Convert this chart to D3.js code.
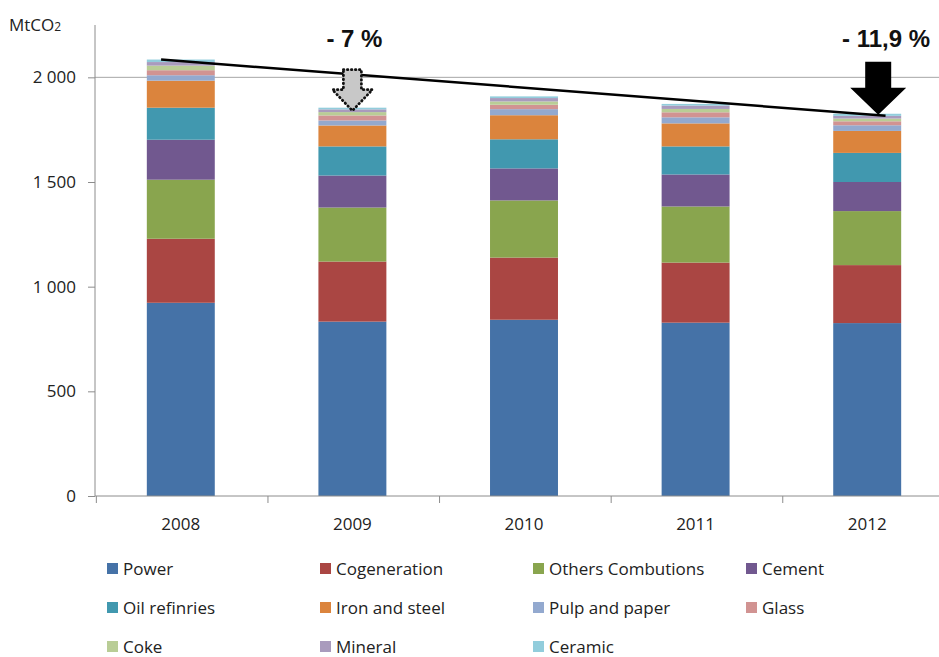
<!DOCTYPE html>
<html>
<head>
<meta charset="utf-8">
<script src="https://cdn.jsdelivr.net/npm/d3@7"></script>
<style>
  body { margin: 0; background: #fff; }
  text { font-family: "Open Sans", "Liberation Sans", sans-serif; fill: #222; }
</style>
</head>
<body>
<svg id="svg" width="939" height="657"></svg>
<script>
// data (MtCO2)
var years = ["2008", "2009", "2010", "2011", "2012"];
var sectors = ["Power", "Cogeneration", "Others Combutions", "Cement", "Oil refinries",
               "Iron and steel", "Pulp and paper", "Glass", "Coke", "Mineral", "Ceramic"];
var power        = [923, 833, 842, 828, 826];
var cogeneration = [306, 287, 297, 287, 277];
var others       = [282, 258, 273, 268, 258];
var cement       = [191, 153, 153, 153, 139];
var oil          = [153, 139, 139, 134, 139];
var ironSteel    = [129, 100, 115, 110, 105];
var pulpPaper    = [26, 24, 29, 29, 27];
var glass        = [24, 24, 21, 24, 19];
var coke         = [22, 16, 16, 16, 13];
var mineral      = [17, 13, 16, 16, 13];
var ceramic      = [12, 8, 8, 8, 10];
var yTicks = [0, 500, 1000, 1500, 2000];
var colors = ["#4572A7", "#AA4643", "#89A54E", "#71588F", "#4198AF", "#DB843D",
              "#93A9CF", "#D19392", "#B9CD96", "#A99BBD", "#92CDDC"];

var series = [power, cogeneration, others, cement, oil, ironSteel, pulpPaper, glass, coke, mineral, ceramic];

var svg = d3.select("#svg");

var margin = {left: 95, top: 25, bottom: 496, right: 953};

// table for the stack
var table = years.map(function(y, i) {
    var row = {year: y};
    sectors.forEach(function(s, k) { row[s] = series[k][i]; });
    return row;
});
var stacked = d3.stack().keys(sectors)(table);
var totals = years.map(function(y, i) { return d3.sum(series, function(s) { return s[i]; }); });

var x = d3.scaleBand().domain(years).range([margin.left, margin.right])
    .paddingInner(0.604).paddingOuter(0.302);
var y = d3.scaleLinear().domain([0, 2250]).range([margin.bottom, margin.top]);
var color = d3.scaleOrdinal().domain(sectors).range(colors);

// gridline at 2000
svg.append("line")
    .attr("x1", margin.left).attr("x2", 939)
    .attr("y1", y(2000)).attr("y2", y(2000))
    .style("stroke", "#a6a6a6").style("stroke-width", 1);

// bars
var layers = svg.append("g").selectAll("g")
    .data(stacked).enter().append("g")
    .style("fill", function(d) { return color(d.key); });
layers.selectAll("rect")
    .data(function(d) { return d; }).enter().append("rect")
    .attr("x", function(d) { return x(d.data.year); })
    .attr("y", function(d) { return y(d[1]); })
    .attr("width", x.bandwidth())
    .attr("height", function(d) { return y(d[0]) - y(d[1]); });

// y axis
var yAxis = svg.append("g")
    .attr("transform", "translate(" + margin.left + ",0)")
    .call(d3.axisLeft(y).tickValues(yTicks).tickSize(7).tickPadding(12)
        .tickFormat(function(d) { return d3.format(",")(d).replace(",", " "); }));
yAxis.select(".domain").attr("d", "M0," + margin.top + "V" + margin.bottom);
yAxis.selectAll("line, path").style("stroke", "#8c8c8c");
yAxis.selectAll("text").style("font-size", "17px").style("fill", "#222");

// x axis
svg.append("line")
    .attr("x1", margin.left).attr("x2", 939)
    .attr("y1", margin.bottom).attr("y2", margin.bottom)
    .style("stroke", "#8c8c8c");
svg.append("g").selectAll("line")
    .data(years).enter().append("line")
    .attr("x1", function(d) { return x(d) - x.bandwidth() * 0.75 + 0.5; })
    .attr("x2", function(d) { return x(d) - x.bandwidth() * 0.75 + 0.5; })
    .attr("y1", margin.bottom).attr("y2", margin.bottom + 7)
    .style("stroke", "#8c8c8c");
svg.append("g").selectAll("text")
    .data(years).enter().append("text")
    .attr("x", function(d) { return x(d) + x.bandwidth() / 2; })
    .attr("y", 530)
    .attr("text-anchor", "middle")
    .style("font-size", "17px")
    .text(function(d) { return d; });

// unit label
svg.append("text")
    .attr("x", 9).attr("y", 31)
    .style("font-size", "17px")
    .html("MtCO<tspan font-size='12px'>2</tspan>");

// trend line
var bw = x.bandwidth();
svg.append("line")
    .attr("x1", x("2008") + bw * 0.21).attr("y1", y(totals[0]))
    .attr("x2", x("2012") + bw * 0.77).attr("y2", y(totals[4]) + 2)
    .style("stroke", "#000").style("stroke-width", 2.5);

// arrows
function arrowPath(cx, tipY, shaftHalf, headHalf, headH, len) {
    var p = d3.path();
    p.moveTo(cx - shaftHalf, tipY - len);
    p.lineTo(cx + shaftHalf, tipY - len);
    p.lineTo(cx + shaftHalf, tipY - headH);
    p.lineTo(cx + headHalf, tipY - headH);
    p.lineTo(cx, tipY);
    p.lineTo(cx - headHalf, tipY - headH);
    p.lineTo(cx - shaftHalf, tipY - headH);
    p.closePath();
    return p.toString();
}
svg.append("path")
    .attr("d", arrowPath(x("2009") + bw / 2, y(totals[1]) + 3, 9, 20, 21, 41))
    .style("fill", "#c8c8c8").style("stroke", "#111")
    .style("stroke-width", 2.8).style("stroke-dasharray", "0.5,3.5")
    .style("stroke-linecap", "round");
svg.append("path")
    .attr("d", arrowPath(x("2012") + bw / 2 + 11, y(totals[4]) + 1, 13, 28, 27, 53))
    .style("fill", "#000");

svg.append("text")
    .attr("x", x("2009") + bw / 2 + 2).attr("y", 47)
    .attr("text-anchor", "middle")
    .style("font-family", "Liberation Sans, Arial, sans-serif")
    .style("font-size", "24px").style("font-weight", "bold")
    .style("fill", "#111")
    .text("- 7 %");
svg.append("text")
    .attr("x", 886).attr("y", 47)
    .attr("text-anchor", "middle")
    .style("font-family", "Liberation Sans, Arial, sans-serif")
    .style("font-size", "24px").style("font-weight", "bold")
    .style("fill", "#111")
    .text("- 11,9 %");

// legend
var legend = svg.append("g").selectAll("g")
    .data(sectors).enter().append("g")
    .attr("transform", function(d, i) {
        return "translate(" + (107 + (i % 4) * 213) + "," + (569 + Math.floor(i / 4) * 39) + ")";
    });
legend.append("rect")
    .attr("x", 0).attr("y", -6)
    .attr("width", 11).attr("height", 11)
    .style("fill", function(d) { return color(d); });
legend.append("text")
    .attr("x", 16).attr("y", 6)
    .style("font-size", "17px")
    .text(function(d) { return d; });
</script>
</body>
</html>
